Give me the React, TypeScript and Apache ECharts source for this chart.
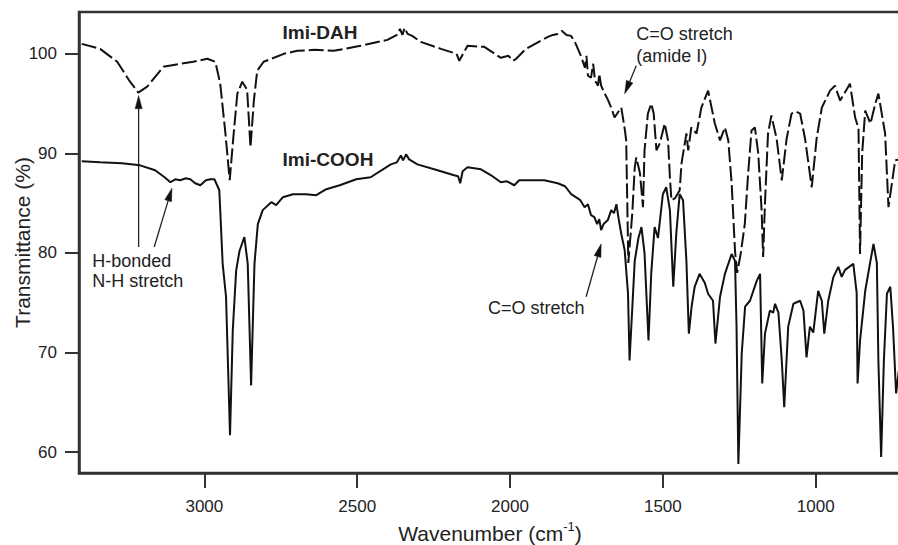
import React, { useEffect, useRef } from "react";
import * as echarts from "echarts";

// Imi-DAH spectrum [wavenumber cm^-1, transmittance %]
const imiDAH: [number, number][] = [
  [3401, 101.0], [3341, 100.5], [3285, 99.2], [3243, 97.2], [3216, 96.1], [3187, 96.7], [3134, 98.7],
  [3079, 99.0], [3036, 99.2], [2990, 99.5], [2964, 99.2], [2948, 97.0], [2931, 92.0], [2917, 87.3],
  [2904, 92.0], [2892, 96.0], [2876, 97.2], [2860, 96.4], [2849, 90.6], [2838, 95.3], [2827, 98.3],
  [2806, 99.2], [2740, 100.0], [2696, 100.3], [2640, 100.4], [2577, 100.3], [2489, 100.8], [2401, 101.4],
  [2370, 101.9], [2360, 102.5], [2352, 101.9], [2345, 102.6], [2335, 102.0], [2320, 101.8], [2292, 101.2],
  [2226, 100.5], [2175, 100.0], [2166, 99.3], [2139, 100.8], [2084, 100.7], [2030, 99.6], [2005, 99.8],
  [1990, 99.3], [1980, 99.5], [1948, 100.5], [1876, 101.7], [1860, 101.9], [1844, 102.0], [1830, 102.3],
  [1815, 101.9], [1800, 101.8], [1785, 101.0], [1767, 99.7], [1755, 98.6], [1750, 99.8], [1745, 97.8],
  [1735, 97.6], [1728, 99.0], [1722, 97.3], [1712, 96.8], [1708, 98.0], [1702, 96.8], [1690, 96.0],
  [1680, 95.4], [1669, 94.6], [1658, 93.6], [1645, 94.2], [1636, 94.6], [1625, 92.5], [1620, 91.3],
  [1613, 79.0], [1600, 84.0], [1592, 88.6], [1587, 89.6], [1575, 88.0], [1570, 86.3], [1565, 84.6],
  [1560, 90.3], [1549, 94.0], [1538, 95.0], [1530, 94.0], [1521, 90.3], [1510, 91.0], [1494, 93.0],
  [1483, 91.3], [1477, 87.6], [1472, 85.3], [1460, 85.5], [1445, 86.3], [1439, 89.0], [1423, 92.0],
  [1417, 90.3], [1407, 92.6], [1390, 92.0], [1374, 94.6], [1352, 96.3], [1330, 93.0], [1313, 91.3],
  [1297, 92.6], [1286, 91.3], [1275, 87.0], [1264, 80.2], [1257, 78.0], [1245, 80.0], [1232, 82.9],
  [1221, 88.0], [1210, 92.3], [1199, 92.6], [1188, 90.0], [1177, 84.3], [1172, 79.6], [1166, 85.0],
  [1156, 92.0], [1145, 93.8], [1128, 91.5], [1111, 87.3], [1095, 91.5], [1079, 94.0], [1065, 94.2],
  [1051, 94.0], [1035, 91.5], [1013, 86.6], [997, 91.5], [980, 94.6], [953, 96.3], [937, 96.8],
  [920, 95.3], [888, 97.0], [871, 93.6], [860, 92.5], [855, 79.9], [848, 90.0], [838, 94.3],
  [821, 93.0], [805, 95.0], [795, 96.0], [773, 92.0], [762, 84.6], [740, 89.3], [725, 89.4], [718, 89.5],
];

// Imi-COOH spectrum [wavenumber cm^-1, transmittance %]
const imiCOOH: [number, number][] = [
  [3401, 89.2], [3341, 89.1], [3270, 89.0], [3210, 88.8], [3161, 88.3], [3130, 87.6], [3111, 87.1],
  [3095, 87.4], [3079, 87.3], [3060, 87.5], [3046, 87.4], [3030, 87.0], [3013, 86.8], [2995, 87.3],
  [2980, 87.4], [2967, 87.4], [2951, 86.3], [2940, 78.9], [2929, 75.6], [2916, 61.7], [2907, 72.2],
  [2896, 78.2], [2885, 80.2], [2869, 81.6], [2858, 78.9], [2847, 66.7], [2836, 78.9], [2825, 82.9],
  [2809, 84.3], [2781, 85.1], [2765, 84.8], [2743, 85.6], [2710, 85.9], [2667, 85.9], [2634, 85.8],
  [2601, 86.4], [2557, 86.8], [2503, 87.4], [2456, 87.6], [2390, 88.9], [2370, 89.1], [2357, 89.8],
  [2350, 89.3], [2340, 89.9], [2330, 89.4], [2303, 88.9], [2237, 88.3], [2183, 87.8], [2170, 87.7],
  [2163, 87.0], [2155, 88.2], [2139, 88.6], [2095, 88.4], [2062, 87.8], [2030, 87.1], [2010, 87.2],
  [1986, 86.8], [1970, 87.3], [1953, 87.3], [1888, 87.3], [1844, 87.0], [1820, 86.7], [1800, 85.9],
  [1785, 85.6], [1770, 85.3], [1756, 84.6], [1745, 84.9], [1735, 83.8], [1724, 83.6], [1715, 82.9],
  [1708, 83.4], [1702, 82.3], [1694, 82.9], [1680, 83.3], [1669, 84.3], [1660, 84.0], [1652, 84.9],
  [1645, 83.5], [1636, 81.9], [1625, 80.3], [1614, 75.9], [1609, 69.2], [1600, 74.5], [1592, 79.2],
  [1580, 81.5], [1570, 82.6], [1560, 80.0], [1554, 75.9], [1547, 71.2], [1538, 78.0], [1527, 82.6],
  [1516, 81.5], [1500, 85.9], [1489, 86.6], [1477, 84.3], [1466, 76.6], [1456, 82.0], [1445, 85.9],
  [1434, 85.3], [1423, 79.2], [1415, 71.9], [1406, 74.6], [1396, 76.6], [1380, 77.9], [1363, 77.0],
  [1352, 75.9], [1336, 75.2], [1328, 70.9], [1313, 75.6], [1297, 77.9], [1275, 79.9], [1264, 79.2],
  [1259, 72.6], [1253, 58.8], [1242, 69.9], [1231, 74.6], [1215, 75.2], [1193, 77.2], [1182, 77.9],
  [1175, 66.9], [1166, 71.9], [1150, 74.2], [1139, 74.0], [1133, 74.9], [1122, 74.0], [1111, 69.2],
  [1103, 64.5], [1090, 72.6], [1073, 74.9], [1051, 75.2], [1040, 74.2], [1030, 69.5], [1019, 72.6],
  [1008, 72.0], [992, 76.2], [980, 75.2], [972, 71.9], [959, 75.2], [942, 77.6], [926, 78.6],
  [915, 77.6], [904, 78.3], [877, 78.9], [866, 76.0], [863, 66.9], [855, 71.2], [838, 76.2],
  [821, 79.2], [811, 80.9], [800, 79.0], [795, 69.2], [786, 59.5], [777, 69.2], [767, 75.9],
  [756, 76.6], [747, 72.5], [737, 65.9], [728, 68.2], [720, 67.5],
];

const xTicks = [1000, 1500, 2000, 2500, 3000];
const yTicks = [60, 70, 80, 90, 100];

// annotation texts, anchored in data coordinates [wn, T] (left edge, middle)
const labels: { text: string; at: [number, number]; bold?: boolean }[] = [
  { text: "Imi-DAH", at: [2744, 102.1], bold: true },
  { text: "Imi-COOH", at: [2744, 89.4], bold: true },
  { text: "H-bonded", at: [3367, 79.2] },
  { text: "N-H stretch", at: [3367, 77.2] },
  { text: "C=O stretch", at: [1587, 102.0] },
  { text: "(amide I)", at: [1587, 99.8] },
  { text: "C=O stretch", at: [2072, 74.5] },
];

// arrows: tail -> tip in data coordinates
const arrows: { tail: [number, number]; tip: [number, number] }[] = [
  { tail: [3215, 80.6], tip: [3215, 95.8] },
  { tail: [3164, 80.6], tip: [3106, 86.5] },
  { tail: [1587, 98.8], tip: [1625, 96.0] },
  { tail: [1751, 75.6], tip: [1702, 80.9] },
];

const FONT = '"Liberation Sans", Arial, Helvetica, sans-serif';
const INK = "#222";

export default function App() {
  const ref = useRef<HTMLDivElement>(null);
  useEffect(() => {
    document.body.style.margin = "0";
    const chart = echarts.init(ref.current!, null, { renderer: "svg" });
    chart.setOption({
      animation: false,
      backgroundColor: "#fff",
      grid: {
        left: 79,
        right: -3,
        top: 12,
        bottom: 72,
        containLabel: false,
        outerBoundsMode: "none",
        show: true,
        borderColor: "#333",
        borderWidth: 2.5,
        backgroundColor: "transparent",
      },
      xAxis: {
        type: "value",
        inverse: true,
        min: 721,
        max: 3410,
        name: "{a|Wavenumber (cm}{s|-1}{a|)}",
        nameLocation: "middle",
        nameGap: 44,
        nameTextStyle: {
          rich: {
            a: { fontSize: 21, fontFamily: FONT, color: INK, lineHeight: 24, verticalAlign: "bottom" },
            s: { fontSize: 13, fontFamily: FONT, color: INK, lineHeight: 24, verticalAlign: "top", padding: [0, 0, 10, 0] },
          },
        },
        axisLine: { onZero: false, lineStyle: { color: "#333", width: 2.5 } },
        axisTick: { show: true, inside: false, length: 15, customValues: xTicks, lineStyle: { color: "#333", width: 2 } },
        axisLabel: {
          customValues: xTicks,
          formatter: (v: number) => String(Math.round(v)),
          fontSize: 17,
          fontFamily: FONT,
          color: INK,
          margin: 25,
        },
        splitLine: { show: false },
      },
      yAxis: {
        type: "value",
        min: 57.9,
        max: 104.2,
        name: "Transmittance (%)",
        nameLocation: "middle",
        nameGap: 46,
        nameMoveOverlap: false,
        nameTextStyle: { fontSize: 21, fontFamily: FONT, color: INK },
        axisLine: { onZero: false, lineStyle: { color: "#333", width: 2.5 } },
        axisTick: { show: true, inside: false, length: 14, customValues: yTicks, lineStyle: { color: "#333", width: 2 } },
        axisLabel: {
          customValues: yTicks,
          formatter: (v: number) => String(Math.round(v)),
          fontSize: 17,
          fontFamily: FONT,
          color: INK,
          margin: 22,
        },
        splitLine: { show: false },
      },
      series: [
        {
          name: "Imi-DAH",
          type: "line",
          data: imiDAH,
          showSymbol: false,
          lineStyle: { color: "#111", width: 2, type: [15, 4] },
        },
        {
          name: "Imi-COOH",
          type: "line",
          data: imiCOOH,
          showSymbol: false,
          lineStyle: { color: "#111", width: 2 },
        },
      ],
    });

    const px = (p: [number, number]) => chart.convertToPixel({ gridIndex: 0 }, p) as number[];
    const graphics: any[] = [];
    labels.forEach((l) => {
      const [x, y] = px(l.at);
      graphics.push({
        type: "text",
        x,
        y,
        style: {
          text: l.text,
          fontSize: l.bold ? 19 : 18,
          fontWeight: l.bold ? "bold" : "normal",
          fontFamily: FONT,
          fill: INK,
          align: "left",
          verticalAlign: "middle",
        },
      });
    });
    arrows.forEach((a) => {
      const [x0, y0] = px(a.tail);
      const [x1, y1] = px(a.tip);
      const dx = x1 - x0;
      const dy = y1 - y0;
      const len = Math.sqrt(dx * dx + dy * dy);
      const ux = dx / len;
      const uy = dy / len;
      const hl = 13;
      const hw = 3.5;
      const bx = x1 - ux * hl;
      const by = y1 - uy * hl;
      graphics.push({
        type: "line",
        shape: { x1: x0, y1: y0, x2: bx, y2: by },
        style: { stroke: "#222", lineWidth: 1.3 },
      });
      graphics.push({
        type: "polygon",
        shape: {
          points: [
            [x1, y1],
            [bx - uy * hw, by + ux * hw],
            [bx + uy * hw, by - ux * hw],
          ],
        },
        style: { fill: "#111", stroke: "#111", lineWidth: 0.5 },
      });
    });
    chart.setOption({ graphic: graphics });

    return () => chart.dispose();
  }, []);
  return <div ref={ref} style={{ width: 898, height: 545 }} />;
}
